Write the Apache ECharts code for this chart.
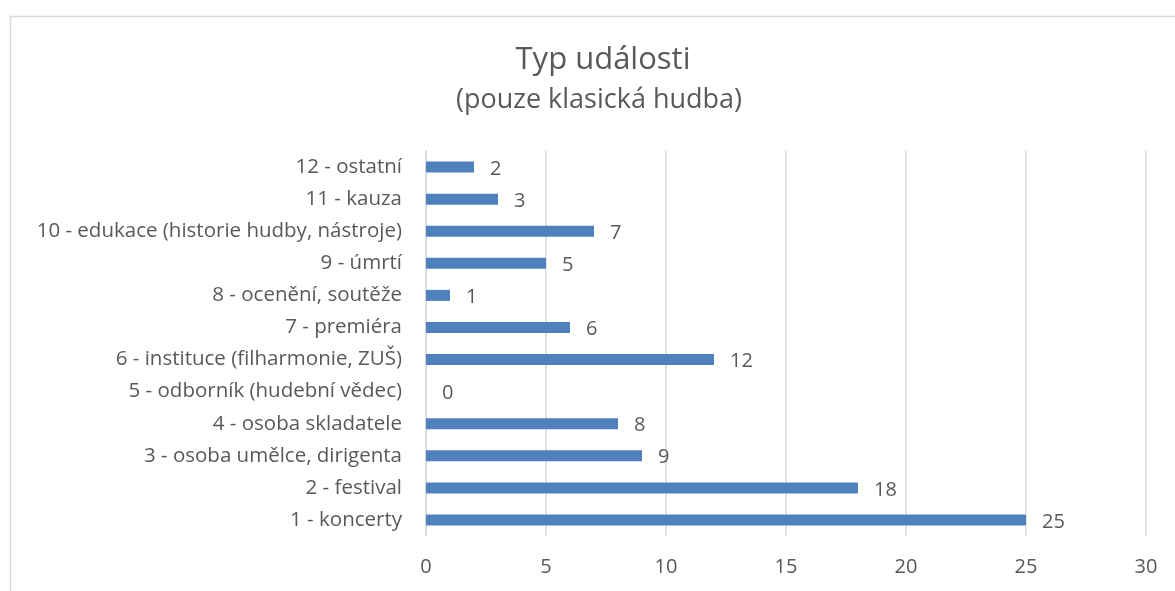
<!DOCTYPE html>
<html>
<head>
<meta charset="utf-8">
<script src="https://cdn.jsdelivr.net/npm/echarts@6/dist/echarts.min.js"></script>
<style>
  html, body { margin: 0; padding: 0; background: #fff; }
  #container { width: 1175px; height: 591px; }
</style>
</head>
<body>
<div id="container"></div>
<script>
// categories listed bottom to top (as in the chart)
var categories = [
    '1 - koncerty',
    '2 - festival',
    '3 - osoba umělce, dirigenta',
    '4 - osoba skladatele',
    '5 - odborník (hudební vědec)',
    '6 - instituce (filharmonie, ZUŠ)',
    '7 - premiéra',
    '8 - ocenění, soutěže',
    '9 - úmrtí',
    '10 - edukace (historie hudby, nástroje)',
    '11 - kauza',
    '12 - ostatní'
];
var counts = [25, 18, 9, 8, 0, 12, 6, 1, 5, 7, 3, 2];
var xTicks = [0, 5, 10, 15, 20, 25, 30];

var font = '"Open Sans", sans-serif';
var textColor = '#595959';

var dom = document.getElementById('container');
var myChart = echarts.init(dom, null, { renderer: 'canvas' });

var option = {
    animation: false,
    graphic: [
        {
            type: 'rect',
            left: 8, top: 14,
            shape: { width: 1200, height: 620 },
            style: { fill: 'none', stroke: '#d9d9d9', lineWidth: 1.5 },
            silent: true
        }
    ],
    title: [
        {
            text: 'Typ události',
            left: 598, top: 40,
            textAlign: 'center',
            textStyle: { fontFamily: font, fontSize: 31, fontWeight: 'normal', color: textColor }
        },
        {
            text: '(pouze klasická hudba)',
            left: 594, top: 82,
            textAlign: 'center',
            textStyle: { fontFamily: font, fontSize: 27, fontWeight: 'normal', color: textColor }
        }
    ],
    grid: { left: 426, right: 29, top: 151, bottom: 55, containLabel: false },
    xAxis: {
        type: 'value',
        min: 0, max: 30, interval: 5,
        axisLine: { show: false },
        axisTick: { show: false },
        splitLine: { show: true, lineStyle: { color: '#d9d9d9', width: 1.5 } },
        axisLabel: {
            margin: 21, fontFamily: font, fontSize: 20, color: textColor,
            formatter: function (v) { return xTicks.indexOf(v) >= 0 ? String(v) : ''; }
        }
    },
    yAxis: {
        type: 'category',
        data: categories,
        axisLine: { show: true, lineStyle: { color: '#d9d9d9', width: 1.5 } },
        axisTick: { show: false },
        axisLabel: { margin: 24, fontFamily: font, fontSize: 20.5, color: textColor }
    },
    series: [
        {
            type: 'bar',
            data: counts,
            barWidth: 11,
            itemStyle: { color: '#4f81bd' },
            label: {
                show: true,
                position: 'right',
                distance: 16,
                offset: [0, 2],
                fontFamily: font, fontSize: 20, color: textColor
            }
        }
    ]
};

myChart.setOption(option);
window.addEventListener('resize', myChart.resize);
</script>
</body>
</html>
